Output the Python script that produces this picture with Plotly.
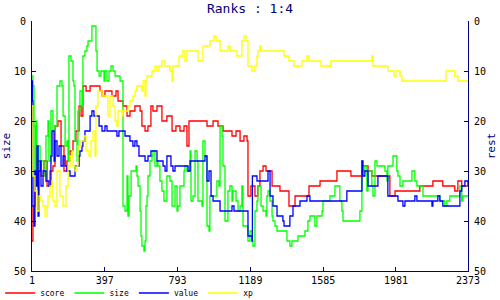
import plotly.graph_objects as go

# ---- data ----
x_ticks = [1, 397, 793, 1189, 1585, 1981, 2373]
y_ticks = [0, 10, 20, 30, 40, 50]

score_x = [1, 6, 17, 34, 50, 66, 83, 99, 115, 126, 142, 159, 175, 191, 208, 224, 240, 257, 268, 278,
           295, 317, 371, 382, 398, 436, 458, 469, 496, 518, 534, 561, 589, 599, 616, 632, 648, 659,
           681, 708, 735, 763, 784, 806, 828, 844, 855, 953, 986, 1013, 1040, 1089, 1111, 1133, 1154,
           1171, 1176, 1192, 1214, 1230, 1241, 1258, 1274, 1307, 1350, 1399, 1432, 1508, 1568, 1660,
           1736, 1796, 1829, 1850, 1948, 1976, 2111, 2182, 2236, 2301, 2318, 2339, 2373]
score_y = [44, 37, 30, 28, 31, 28, 33, 30, 29, 21, 20, 25, 30, 28, 26, 24, 22, 17, 19, 13,
           14, 13, 14, 15, 14, 15, 14, 16, 17, 19, 18, 17, 18, 21, 22, 21, 17, 18,
           17, 20, 19, 22, 21, 22, 21, 25, 20, 21, 20, 21, 22, 23, 22, 24, 23,
           24, 35, 33, 35, 33, 30, 29, 30, 33, 34, 37, 35, 33, 32, 30,
           31, 29, 30, 31, 35, 34, 33, 32, 33, 34, 32, 33, 33]

size_x = [1, 6, 12, 17, 23, 28, 34, 45, 66, 77, 88, 93, 104, 115, 126, 137, 153, 164, 170, 181,
          191, 197, 202, 213, 224, 229, 235, 246, 251, 262, 273, 278, 289, 300, 306, 327, 349, 355,
          366, 376, 393, 398, 409, 420, 431, 442, 453, 480, 496, 507, 518, 523, 529, 540, 567, 572,
          578, 589, 594, 599, 610, 616, 621, 627, 632, 643, 654, 659, 670, 681, 686, 697, 708, 719,
          735, 752, 763, 779, 790, 795, 806, 828, 833, 844, 861, 866, 877, 888, 899, 904, 926, 931,
          942, 953, 964, 969, 997, 1007, 1018, 1024, 1035, 1040, 1051, 1067, 1078, 1089, 1094, 1111,
          1122, 1133, 1143, 1149, 1171, 1176, 1187, 1198, 1203, 1214, 1225, 1230, 1247, 1258, 1274,
          1279, 1285, 1296, 1307, 1312, 1323, 1334, 1388, 1404, 1415, 1448, 1486, 1502, 1513, 1540,
          1551, 1579, 1584, 1622, 1649, 1676, 1687, 1693, 1785, 1796, 1801, 1812, 1823, 1829, 1850,
          1856, 1867, 1878, 1921, 1932, 1937, 1965, 1986, 1992, 2003, 2019, 2068, 2084, 2095, 2128,
          2220, 2247, 2258, 2274, 2329, 2339, 2345, 2373]
size_y = [11, 13, 21, 33, 20, 30, 25, 28, 31, 23, 20, 28, 18, 22, 21, 13, 12, 13, 19, 25,
          24, 28, 7, 8, 12, 13, 24, 28, 18, 14, 17, 7, 6, 5, 4, 1, 6, 10,
          11, 10, 12, 10, 12, 10, 9, 10, 11, 12, 37, 38, 31, 39, 35, 30, 29, 31,
          33, 38, 43, 45, 46, 44, 37, 35, 31, 28, 27, 26, 29, 28, 29, 32, 34, 36,
          31, 32, 37, 33, 38, 37, 33, 30, 29, 30, 26, 36, 35, 26, 28, 36, 37, 24,
          27, 41, 42, 35, 35, 32, 33, 21, 23, 29, 40, 34, 33, 36, 34, 36,
          38, 37, 33, 41, 41, 44, 42, 44, 45, 38, 36, 33, 37, 38, 39,
          35, 34, 36, 39, 40, 41, 42, 44, 45, 44, 43, 42, 40, 39, 41,
          39, 38, 36, 35, 33, 36, 38, 40, 38, 28, 30, 29, 34, 30, 33,
          35, 28, 29, 30, 32, 29, 27, 30, 31, 33, 32, 30, 32, 33, 35,
          36, 37, 36, 35, 33, 36, 35, 35]

value_x = [1, 3, 6, 12, 17, 23, 28, 34, 39, 45, 50, 61, 77, 93, 104, 110, 121, 126, 137, 148,
           159, 170, 181, 191, 208, 224, 235, 246, 257, 262, 273, 278, 289, 300, 317, 327, 338, 349,
           366, 382, 398, 409, 436, 463, 474, 507, 534, 550, 561, 572, 583, 605, 616, 632, 648, 670,
           681, 697, 714, 725, 735, 757, 768, 779, 850, 861, 899, 931, 942, 953, 964, 975, 986, 1024,
           1062, 1089, 1100, 1171, 1176, 1198, 1200, 1214, 1225, 1252, 1279, 1285, 1296, 1312, 1334,
           1366, 1372, 1404, 1421, 1448, 1459, 1486, 1497, 1513, 1557, 1704, 1714, 1796, 1801, 1812,
           1829, 1883, 1937, 1992, 2019, 2030, 2084, 2095, 2177, 2182, 2209, 2220, 2236, 2318, 2329,
           2339, 2356, 2373]
value_y = [12, 16, 37, 41, 30, 33, 25, 39, 30, 28, 33, 30, 32, 33, 27, 22, 28, 24, 27, 25,
           29, 27, 29, 30, 31, 31, 29, 29, 27, 26, 25, 24, 22, 22, 19, 18, 19, 19,
           21, 22, 21, 22, 22, 23, 22, 23, 24, 25, 24, 25, 27, 27, 28, 27, 26, 26,
           28, 28, 29, 30, 27, 29, 30, 29, 30, 28, 28, 28, 27, 32, 30, 35, 36, 38,
           38, 37, 38, 38, 43, 44, 31, 31, 32, 32, 32, 30, 35, 37, 39,
           40, 41, 39, 37, 37, 36, 36, 35, 36, 36, 36, 34, 28, 31, 30,
           33, 31, 35, 36, 37, 36, 35, 36, 37, 36, 35, 36, 37, 37, 34,
           33, 32, 33]

xp_x = [1, 6, 17, 28, 39, 50, 61, 72, 83, 88, 99, 110, 115, 126, 137, 153, 170, 186, 197, 208,
        219, 224, 235, 246, 251, 268, 284, 295, 311, 322, 333, 344, 349, 360, 382, 409, 414, 425,
        442, 453, 463, 469, 491, 496, 523, 534, 550, 561, 572, 599, 605, 616, 621, 627, 654, 670,
        681, 692, 708, 725, 752, 763, 768, 784, 801, 822, 833, 844, 904, 931, 969, 991, 1002, 1024,
        1067, 1078, 1116, 1143, 1154, 1165, 1176, 1198, 1214, 1225, 1230, 1241, 1247, 1372, 1399,
        1426, 1470, 1497, 1508, 1573, 1627, 1850, 1856, 1937, 1970, 1981, 2003, 2014, 2253, 2301,
        2318, 2373]
xp_y = [17, 31, 34, 38, 35, 36, 37, 39, 37, 35, 33, 32, 36, 37, 30, 35, 37, 33, 29, 27,
        26, 29, 30, 29, 25, 24, 23, 26, 27, 24, 22, 27, 17, 14, 15, 15, 19, 15,
        17, 20, 21, 18, 19, 18, 17, 16, 15, 14, 13, 14, 12, 15, 12, 11, 10, 9,
        10, 9, 8, 9, 10, 12, 9, 9, 7, 6, 8, 6, 8, 5, 4, 3, 4, 6,
        5, 6, 7, 4, 3, 4, 9, 10, 9, 7, 6, 5, 6, 7, 8,
        9, 8, 7, 8, 9, 8, 7, 9, 10, 11, 10, 11, 12, 10, 11,
        12, 12]

series = [
    ("score", score_x, score_y, "#ff0000"),
    ("size", size_x, size_y, "#00ff00"),
    ("value", value_x, value_y, "#0000ff"),
    ("xp", xp_x, xp_y, "#ffff00"),
]

NAVY = "#000080"
FONT = "DejaVu Sans Mono"

fig = go.Figure()
for name, xs, ys, col in series:
    fig.add_trace(go.Scatter(
        x=xs, y=ys, name=name, mode="lines",
        line=dict(color=col, width=1.3, shape="hv"),
        yaxis="y2" if name == "xp" else "y",
    ))

axis_common = dict(
    range=[50, 0], tickvals=y_ticks, ticks="inside", ticklen=4, tickcolor=NAVY,
    showline=True, linecolor=NAVY, linewidth=1, showgrid=False, zeroline=False,
    tickfont=dict(family=FONT, size=10, color="black"), ticklabelstandoff=3,
)

fig.update_layout(
    width=500, height=300,
    margin=dict(l=32, r=32, t=21, b=29, autoexpand=False),
    paper_bgcolor="white", plot_bgcolor="white",
    font=dict(family=FONT, size=10, color="black"),
    title=dict(text="Ranks : 1:4", x=0.5, xanchor="center", y=0.973, yanchor="middle",
               yref="container", font=dict(family=FONT, size=13, color=NAVY)),
    xaxis=dict(range=[1, 2373], tickvals=x_ticks, ticks="inside", ticklen=4, tickcolor=NAVY,
               showline=True, linecolor=NAVY, linewidth=1, showgrid=False, zeroline=False,
               tickfont=dict(family=FONT, size=10, color="black")),
    yaxis=dict(title=dict(text="size", font=dict(family=FONT, size=11, color=NAVY), standoff=2),
               side="left", **axis_common),
    yaxis2=dict(title=dict(text="rest", font=dict(family=FONT, size=11, color=NAVY), standoff=2),
                side="right", overlaying="y", **axis_common),
    showlegend=True,
    legend=dict(orientation="h", x=-0.073, xanchor="left", y=-0.088, yanchor="middle",
                font=dict(family=FONT, size=8, color="black"), itemwidth=30,
                bgcolor="rgba(0,0,0,0)", tracegroupgap=0),
)

fig.write_html("out.html")
